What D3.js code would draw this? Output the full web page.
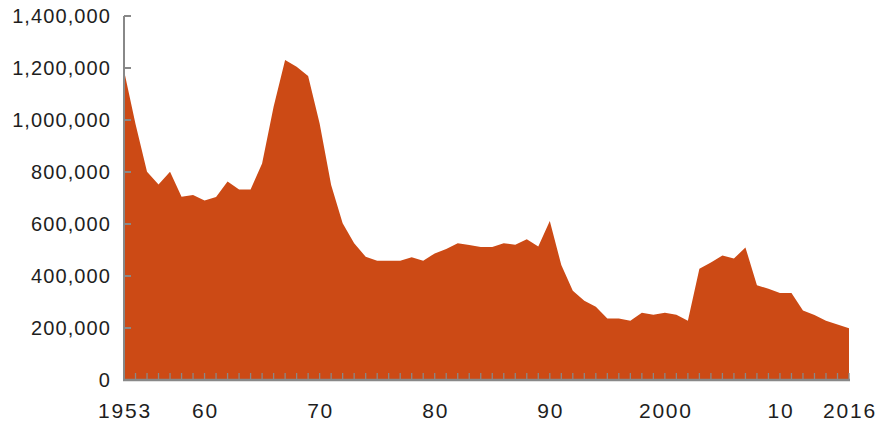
<!DOCTYPE html>
<html><head><meta charset="utf-8">
<script src="https://cdn.jsdelivr.net/npm/d3@7"></script>
<style>body{margin:0;background:#fff}svg{display:block}text{font-family:"Liberation Sans",Arial,sans-serif;fill:#1e1e1e}</style>
</head><body><svg id="c" width="894" height="424"></svg>
<script>
const years = d3.range(1953, 2017);
const values = [
 1190000, 985000, 801000, 752000, 801000, 705000, 712000, 690000, 704000, 763000,
 733000, 733000, 833000, 1051000, 1231000, 1205000, 1169000, 987000, 750000, 603000,
 526000, 474000, 459000, 459000, 459000, 472000, 459000, 487000, 504000, 526000,
 519000, 512000, 512000, 526000, 520000, 541000, 513000, 612000, 442000, 343000,
 305000, 282000, 237000, 237000, 228000, 259000, 251000, 259000, 251000, 228000,
 428000, 452000, 479000, 467000, 510000, 364000, 351000, 335000, 335000, 267000,
 250000, 228000, 213000, 199000
];
const yTicks = [0,200000,400000,600000,800000,1000000,1200000,1400000];
const xTickYears = [1953,1960,1970,1980,1990,2000,2010,2016];
const xTickLabels = ["1953","60","70","80","90","2000","10","2016"];

const data = years.map((y,i)=>({year:y, value:values[i]}));
const svg = d3.select("#c");
const x = d3.scaleLinear().domain([1953,2016]).range([124,849]);
const y = d3.scaleLinear().domain([0,1400000]).range([380,16]);

svg.append("path").datum(data)
  .attr("fill","#cc4a15")
  .attr("d", d3.area().x(d=>x(d.year)).y0(y(0)).y1(d=>y(d.value)));

// y axis
const ya = svg.append("g");
ya.append("line").attr("x1",124).attr("x2",124).attr("y1",y(1400000)).attr("y2",y(0))
  .attr("stroke","#888").attr("stroke-width",2);
ya.selectAll("line.t").data(yTicks).join("line").attr("class","t")
  .attr("x1",124).attr("x2",131).attr("y1",d=>y(d)).attr("y2",d=>y(d))
  .attr("stroke","#888").attr("stroke-width",2);
ya.selectAll("text").data(yTicks).join("text")
  .attr("x",111).attr("y",d=>y(d)).attr("dy","0.36em").attr("text-anchor","end")
  .attr("font-size",20).attr("letter-spacing",1.1).text(d=>d3.format(",")(d));

// x axis
const xa = svg.append("g");
xa.selectAll("line.t").data(years.slice(1)).join("line").attr("class","t")
  .attr("x1",d=>x(d)).attr("x2",d=>x(d)).attr("y1",373).attr("y2",380)
  .attr("stroke","#888").attr("stroke-width",1.3);
xa.append("line").attr("x1",123).attr("x2",850).attr("y1",380).attr("y2",380)
  .attr("stroke","#888").attr("stroke-width",2.5);
xa.selectAll("text").data(xTickYears).join("text")
  .attr("x",d=>x(d)+1).attr("y",418).attr("text-anchor","middle")
  .attr("font-size",21).attr("letter-spacing",1.8).text((d,i)=>xTickLabels[i]);
</script></body></html>
